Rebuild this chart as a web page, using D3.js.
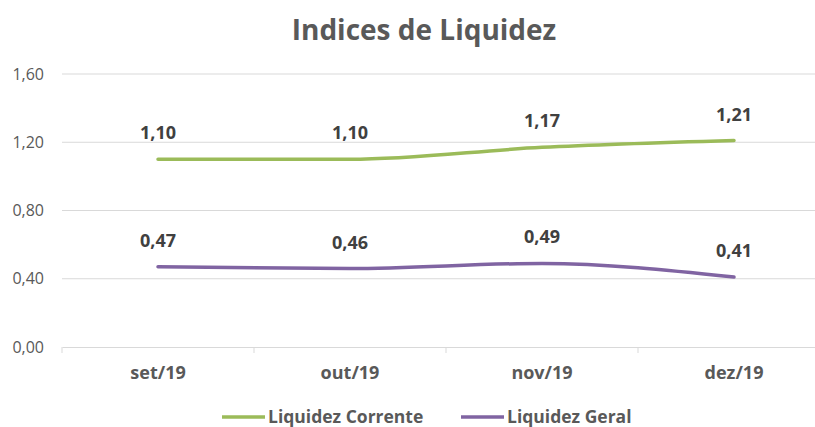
<!DOCTYPE html>
<html lang="pt">
<head>
<meta charset="utf-8">
<title>Indices de Liquidez</title>
<style>
body { margin: 0; background: #fff; }
.axis text { font-family: "Liberation Sans Narrow", "Open Sans", sans-serif; fill: #595959; }
</style>
</head>
<body>
<svg width="815" height="427"></svg>
<script src="https://cdn.jsdelivr.net/npm/d3@7"></script>
<script>

// data
const months = ['set/19', 'out/19', 'nov/19', 'dez/19'];
const corrente = [1.10, 1.10, 1.17, 1.21];
const geral = [0.47, 0.46, 0.49, 0.41];
const yTicks = [0, 0.4, 0.8, 1.2, 1.6];

const series = [
  {name: 'Liquidez Corrente', values: corrente, color: '#9bbb59'},
  {name: 'Liquidez Geral', values: geral, color: '#8064a2'}
];

const svg = d3.select('svg');
const margin = {top: 74, left: 62, bottom: 80};
const plotRight = 830;   // plot area runs past the picture's right edge
const fmt = v => d3.format('.2f')(v).replace('.', ',');

const x = d3.scaleBand().domain(months).range([margin.left, plotRight]);
const y = d3.scaleLinear().domain([0, 1.6]).range([347, margin.top]);

// title
svg.append('text')
  .attr('x', 424).attr('y', 40)
  .attr('text-anchor', 'middle')
  .attr('font-family', '"Liberation Sans Narrow", "Open Sans", sans-serif')
  .attr('font-weight', 'bold')
  .attr('font-size', 28)
  .attr('fill', '#595959')
  .text('Indices de Liquidez');

// gridlines
svg.append('g')
  .selectAll('line')
  .data(yTicks.slice(1))
  .enter().append('line')
    .attr('x1', margin.left).attr('x2', plotRight)
    .attr('y1', d => y(d)).attr('y2', d => y(d))
    .attr('stroke', '#d9d9d9').attr('stroke-width', 1);

// y axis labels
const yAxis = svg.append('g')
  .attr('class', 'axis')
  .attr('transform', 'translate(' + margin.left + ',0)')
  .call(d3.axisLeft(y).tickValues(yTicks).tickFormat(fmt).tickSize(0).tickPadding(18));
yAxis.select('.domain').remove();
yAxis.selectAll('text').attr('font-size', 16);

// x axis
const xAxis = svg.append('g')
  .attr('class', 'axis')
  .attr('transform', 'translate(0,' + y(0) + ')')
  .call(d3.axisBottom(x).tickSize(0).tickPadding(19));
xAxis.select('.domain').attr('stroke', '#d9d9d9');
xAxis.selectAll('text').attr('font-size', 18).attr('font-weight', 'bold');

// category boundary ticks
svg.append('g')
  .selectAll('line')
  .data(months)
  .enter().append('line')
    .attr('x1', d => x(d)).attr('x2', d => x(d))
    .attr('y1', y(0)).attr('y2', y(0) + 6)
    .attr('stroke', '#d9d9d9');

const line = d3.line()
  .x((d, i) => x(months[i]) + x.bandwidth() / 2)
  .y(d => y(d))
  .curve(d3.curveMonotoneX);

series.forEach(s => {
  svg.append('path')
    .datum(s.values)
    .attr('d', line)
    .attr('fill', 'none')
    .attr('stroke', s.color)
    .attr('stroke-width', 3.5)
    .attr('stroke-linecap', 'round');

  svg.append('g')
    .selectAll('text')
    .data(s.values)
    .enter().append('text')
      .attr('x', (d, i) => x(months[i]) + x.bandwidth() / 2)
      .attr('y', d => y(d) - 20)
      .attr('text-anchor', 'middle')
      .attr('font-family', '"Open Sans", sans-serif')
      .attr('font-weight', 'bold')
      .attr('font-size', 18)
      .attr('fill', '#404040')
      .text(fmt);
});

// legend
const legendPos = [222, 461];
const legend = svg.append('g')
  .selectAll('g')
  .data(series)
  .enter().append('g')
    .attr('transform', (d, i) => 'translate(' + legendPos[i] + ',417)');

legend.append('line')
  .attr('x1', 0).attr('x2', 43)
  .attr('stroke', d => d.color)
  .attr('stroke-width', 3.5);

legend.append('text')
  .attr('x', 46)
  .attr('dy', '0.35em')
  .attr('font-family', '"Liberation Sans Narrow", "Open Sans", sans-serif')
  .attr('font-weight', 'bold')
  .attr('font-size', 17.5)
  .attr('fill', '#595959')
  .text(d => d.name);

</script>
</body>
</html>
